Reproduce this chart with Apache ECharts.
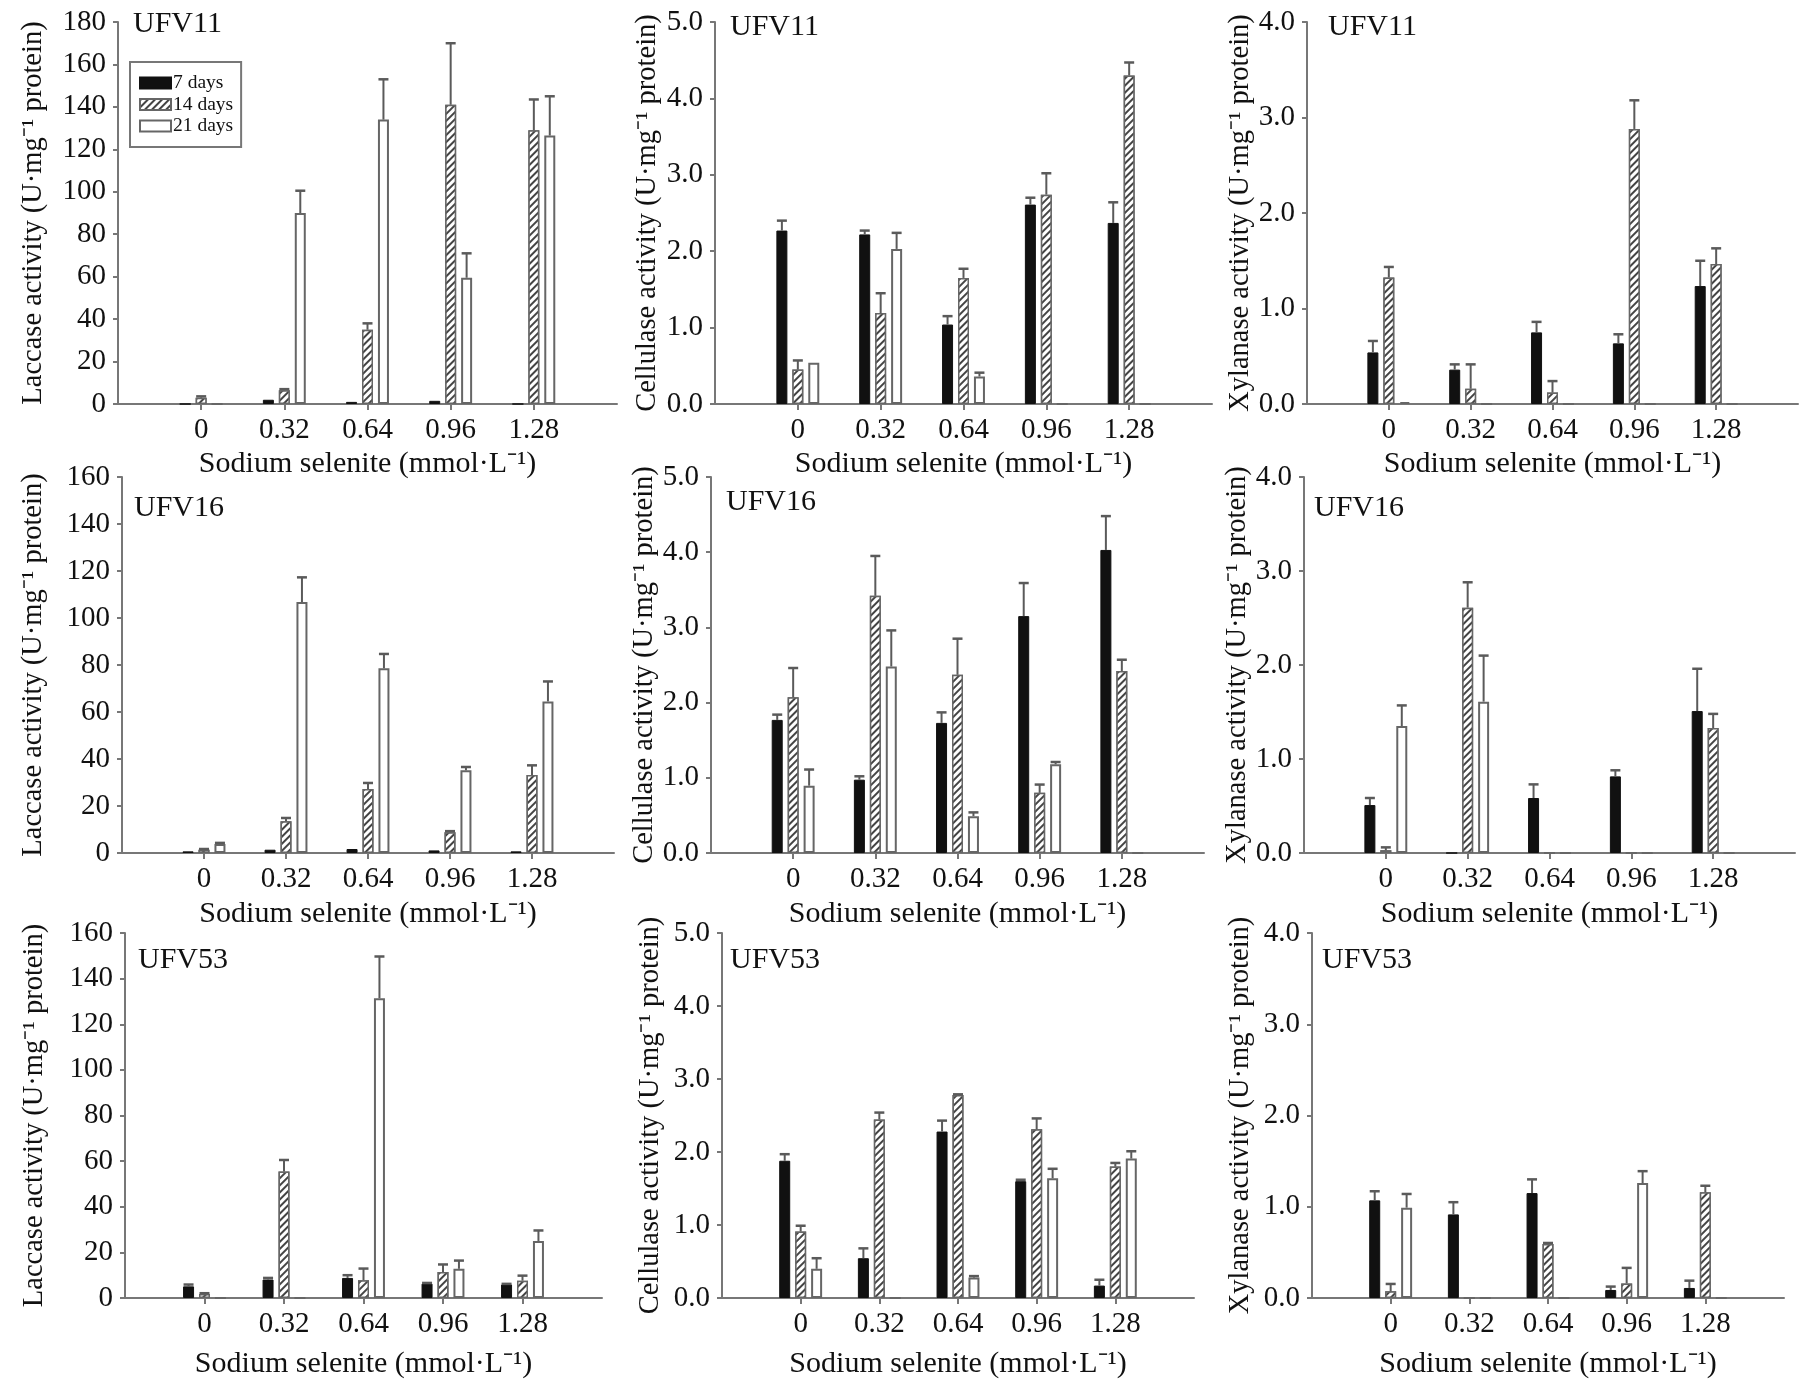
<!DOCTYPE html>
<html>
<head>
<meta charset="utf-8">
<title>Enzyme activity vs sodium selenite</title>
<script src="https://cdn.jsdelivr.net/npm/echarts@6/dist/echarts.min.js"></script>
<style>
  html, body { margin: 0; padding: 0; background: #fff; }
  #chart { width: 1801px; height: 1385px; }
</style>
</head>
<body>
<div id="chart"></div>
<script>
// sodium selenite levels (mmol/L)
const categories = ['0', '0.32', '0.64', '0.96', '1.28'];
const seriesNames = ['7 days', '14 days', '21 days'];

// rows: 7 days, 14 days, 21 days
const lac11 = [[0, 2, 1, 1.5, 0], [3, 6.5, 35, 141, 129], [0, 90, 134, 59.5, 126.5]];
const lac11Err = [[0, 0, 0, 0, 0], [0.6, 0.5, 3, 29, 14.5], [0, 10.5, 19, 11.5, 18.5]];

const cel11 = [[2.27, 2.22, 1.04, 2.61, 2.37], [0.45, 1.19, 1.65, 2.74, 4.3], [0.54, 2.03, 0.36, 0, 0]];
const cel11Err = [[0.13, 0.05, 0.11, 0.09, 0.27], [0.12, 0.26, 0.12, 0.28, 0.17], [0, 0.21, 0.05, 0, 0]];

const xyl11 = [[0.54, 0.36, 0.75, 0.635, 1.235], [1.325, 0.16, 0.12, 2.88, 1.465], [0.02, 0, 0, 0, 0]];
const xyl11Err = [[0.12, 0.055, 0.11, 0.095, 0.265], [0.11, 0.255, 0.12, 0.3, 0.165], [0, 0, 0, 0, 0]];

const lac16 = [[0.7, 1.4, 1.7, 1.1, 0.7], [1.4, 13.5, 27.2, 8.8, 33.2], [3.8, 106.8, 78.6, 35.2, 64.5]];
const lac16Err = [[0, 0, 0, 0, 0], [0.3, 1.4, 2.6, 0.5, 4.1], [0.5, 10.5, 6.1, 1.4, 8.5]];

const cel16 = [[1.77, 0.975, 1.73, 3.15, 4.03], [2.07, 3.42, 2.37, 0.8, 2.42], [0.895, 2.48, 0.49, 1.18, 0]];
const cel16Err = [[0.07, 0.045, 0.14, 0.44, 0.45], [0.39, 0.53, 0.48, 0.11, 0.15], [0.215, 0.48, 0.05, 0.03, 0]];

const xyl16 = [[0.51, 0, 0.585, 0.815, 1.51], [0.03, 2.61, 0, 0, 1.33], [1.35, 1.61, 0, 0, 0]];
const xyl16Err = [[0.075, 0, 0.145, 0.065, 0.45], [0.03, 0.27, 0, 0, 0.15], [0.22, 0.49, 0, 0, 0]];

const lac53 = [[5.1, 8.1, 8.8, 6.3, 5.9], [1.8, 55.5, 7.8, 11.4, 7.6], [0, 0, 131.4, 12.8, 25]];
const lac53Err = [[0.8, 0.7, 1.2, 0.3, 0.3], [0.3, 5, 5.1, 3.3, 2.2], [0, 0, 18.3, 3.6, 4.6]];

const cel53 = [[1.88, 0.545, 2.28, 1.6, 0.17], [0.91, 2.445, 2.78, 2.31, 1.8], [0.4, 0, 0.28, 1.64, 1.91]];
const cel53Err = [[0.09, 0.135, 0.15, 0.02, 0.08], [0.08, 0.095, 0.01, 0.15, 0.05], [0.145, 0, 0.02, 0.13, 0.1]];

const xyl53 = [[1.07, 0.916, 1.15, 0.088, 0.11], [0.073, 0, 0.593, 0.16, 1.16], [0.99, 0, 0, 1.26, 0]];
const xyl53Err = [[0.1, 0.134, 0.15, 0.037, 0.08], [0.081, 0, 0.01, 0.17, 0.07], [0.15, 0, 0, 0.13, 0]];

const FONT = '"Liberation Serif", "Times New Roman", serif';
const AXIS = '#777';
const ERR = '#5a5a5a';
const X_TITLE = 'Sodium selenite (mmol·L⁻¹)';

// layout of each panel: [left, top, right, bottom] in px
const panels = [
  { strain: 'UFV11', enzyme: 'Laccase', vals: lac11, errs: lac11Err, max: 180, step: 20, dec: 0, box: [118, 22, 617, 404], yGap: 70, xGap: 45, tag: [133, 24] },
  { strain: 'UFV11', enzyme: 'Cellulase', vals: cel11, errs: cel11Err, max: 5, step: 1, dec: 1, box: [715, 22, 1212, 404], yGap: 53, xGap: 45, tag: [730, 27] },
  { strain: 'UFV11', enzyme: 'Xylanase', vals: xyl11, errs: xyl11Err, max: 4, step: 1, dec: 1, box: [1307, 22, 1801, 404], yGap: 52, xGap: 45, tag: [1328, 27] },
  { strain: 'UFV16', enzyme: 'Laccase', vals: lac16, errs: lac16Err, max: 160, step: 20, dec: 0, box: [122, 477, 614, 853], yGap: 74, xGap: 46, tag: [134, 508] },
  { strain: 'UFV16', enzyme: 'Cellulase', vals: cel16, errs: cel16Err, max: 5, step: 1, dec: 1, box: [711, 477, 1204, 853], yGap: 50, xGap: 46, tag: [726, 502] },
  { strain: 'UFV16', enzyme: 'Xylanase', vals: xyl16, errs: xyl16Err, max: 4, step: 1, dec: 1, box: [1304, 477, 1795, 853], yGap: 49, xGap: 46, tag: [1314, 508] },
  { strain: 'UFV53', enzyme: 'Laccase', vals: lac53, errs: lac53Err, max: 160, step: 20, dec: 0, box: [125, 933, 602, 1298], yGap: 76, xGap: 51, tag: [138, 960] },
  { strain: 'UFV53', enzyme: 'Cellulase', vals: cel53, errs: cel53Err, max: 5, step: 1, dec: 1, box: [722, 933, 1194, 1298], yGap: 57, xGap: 51, tag: [730, 960] },
  { strain: 'UFV53', enzyme: 'Xylanase', vals: xyl53, errs: xyl53Err, max: 4, step: 1, dec: 1, box: [1312, 933, 1784, 1298], yGap: 57, xGap: 51, tag: [1322, 960] }
];

const BAR_W = 11;
const BAR_GAP = 0.45;
const STEP_X = BAR_W * (1 + BAR_GAP);

const hatch = {
  symbol: 'rect',
  symbolSize: 1,
  dashArrayX: [1, 0],
  dashArrayY: [2, 2.6],
  rotation: -Math.PI / 4,
  color: '#444',
  backgroundColor: '#fff'
};

const barStyles = [
  { color: '#111', borderColor: '#111', borderWidth: 1 },
  { color: '#fff', borderColor: '#666', borderWidth: 1.5, decal: hatch },
  { color: '#fff', borderColor: '#666', borderWidth: 2 }
];

function errorBars(offset) {
  return function (params, api) {
    const x = api.value(0);
    const v = api.value(1);
    const e = api.value(2);
    if (!e) return null;
    const p0 = api.coord([x, v]);
    const p1 = api.coord([x, v + e]);
    const cx = p0[0] + offset;
    return {
      type: 'group',
      children: [
        { type: 'line', shape: { x1: cx, y1: p0[1], x2: cx, y2: p1[1] }, style: { stroke: ERR, lineWidth: 2 } },
        { type: 'line', shape: { x1: cx - 5, y1: p1[1], x2: cx + 5, y2: p1[1] }, style: { stroke: ERR, lineWidth: 2.5 } }
      ]
    };
  };
}

const axisData = [''].concat(categories, ['']);
const grid = [], xAxis = [], yAxis = [], series = [], graphic = [];

panels.forEach((p, k) => {
  const [l, t, r, b] = p.box;
  grid.push({ left: l, top: t, width: r - l, height: b - t });

  xAxis.push({
    type: 'category',
    gridIndex: k,
    data: axisData,
    boundaryGap: false,
    name: X_TITLE,
    nameLocation: 'middle',
    nameGap: p.xGap,
    nameTextStyle: { fontFamily: FONT, fontSize: 30, color: '#111' },
    axisLine: { lineStyle: { color: AXIS, width: 2 } },
    axisTick: { length: 6, lineStyle: { color: AXIS, width: 2 }, interval: (i) => i > 0 && i < axisData.length - 1 },
    axisLabel: { interval: 0, margin: 12, fontFamily: FONT, fontSize: 29, color: '#111' },
    splitLine: { show: false }
  });

  yAxis.push({
    type: 'value',
    gridIndex: k,
    min: 0,
    max: p.max,
    interval: p.step,
    name: p.enzyme + ' activity (U·mg⁻¹ protein)',
    nameLocation: 'middle',
    nameGap: p.yGap,
    nameTextStyle: { fontFamily: FONT, fontSize: 28.5, color: '#111' },
    axisLine: { show: true, lineStyle: { color: AXIS, width: 2 } },
    axisTick: { show: true, length: 5, lineStyle: { color: AXIS, width: 2 } },
    axisLabel: { margin: 12, fontFamily: FONT, fontSize: 29, color: '#111', formatter: (v) => v.toFixed(p.dec) },
    splitLine: { show: false }
  });

  seriesNames.forEach((name, s) => {
    series.push({
      type: 'bar',
      name: name,
      xAxisIndex: k,
      yAxisIndex: k,
      barWidth: BAR_W,
      barGap: (BAR_GAP * 100) + '%',
      itemStyle: barStyles[s],
      emphasis: { disabled: true },
      data: [null].concat(p.vals[s], [null])
    });
  });

  seriesNames.forEach((name, s) => {
    series.push({
      type: 'custom',
      name: name + ' error',
      xAxisIndex: k,
      yAxisIndex: k,
      z: 3,
      renderItem: errorBars((s - 1) * STEP_X),
      encode: { x: 0, y: 1 },
      data: p.vals[s].map((v, i) => [i + 1, v, p.errs[s][i]])
    });
  });

  graphic.push({
    type: 'text',
    x: p.tag[0],
    y: p.tag[1],
    style: { text: p.strain, fontFamily: FONT, fontSize: 30, fill: '#111', verticalAlign: 'middle' }
  });
});

const chart = echarts.init(document.getElementById('chart'));
chart.setOption({
  backgroundColor: '#fff',
  animation: false,
  legend: {
    data: seriesNames,
    orient: 'vertical',
    left: 130,
    top: 62,
    itemWidth: 31,
    itemHeight: 11,
    itemGap: 1.5,
    padding: [11, 8, 11, 9],
    borderColor: '#777',
    borderWidth: 2,
    selectedMode: false,
    icon: 'rect',
    textStyle: { fontFamily: FONT, fontSize: 19.5, color: '#111', padding: [0, 0, 0, -3] }
  },
  grid: grid,
  xAxis: xAxis,
  yAxis: yAxis,
  series: series,
  graphic: graphic
});
</script>
</body>
</html>
